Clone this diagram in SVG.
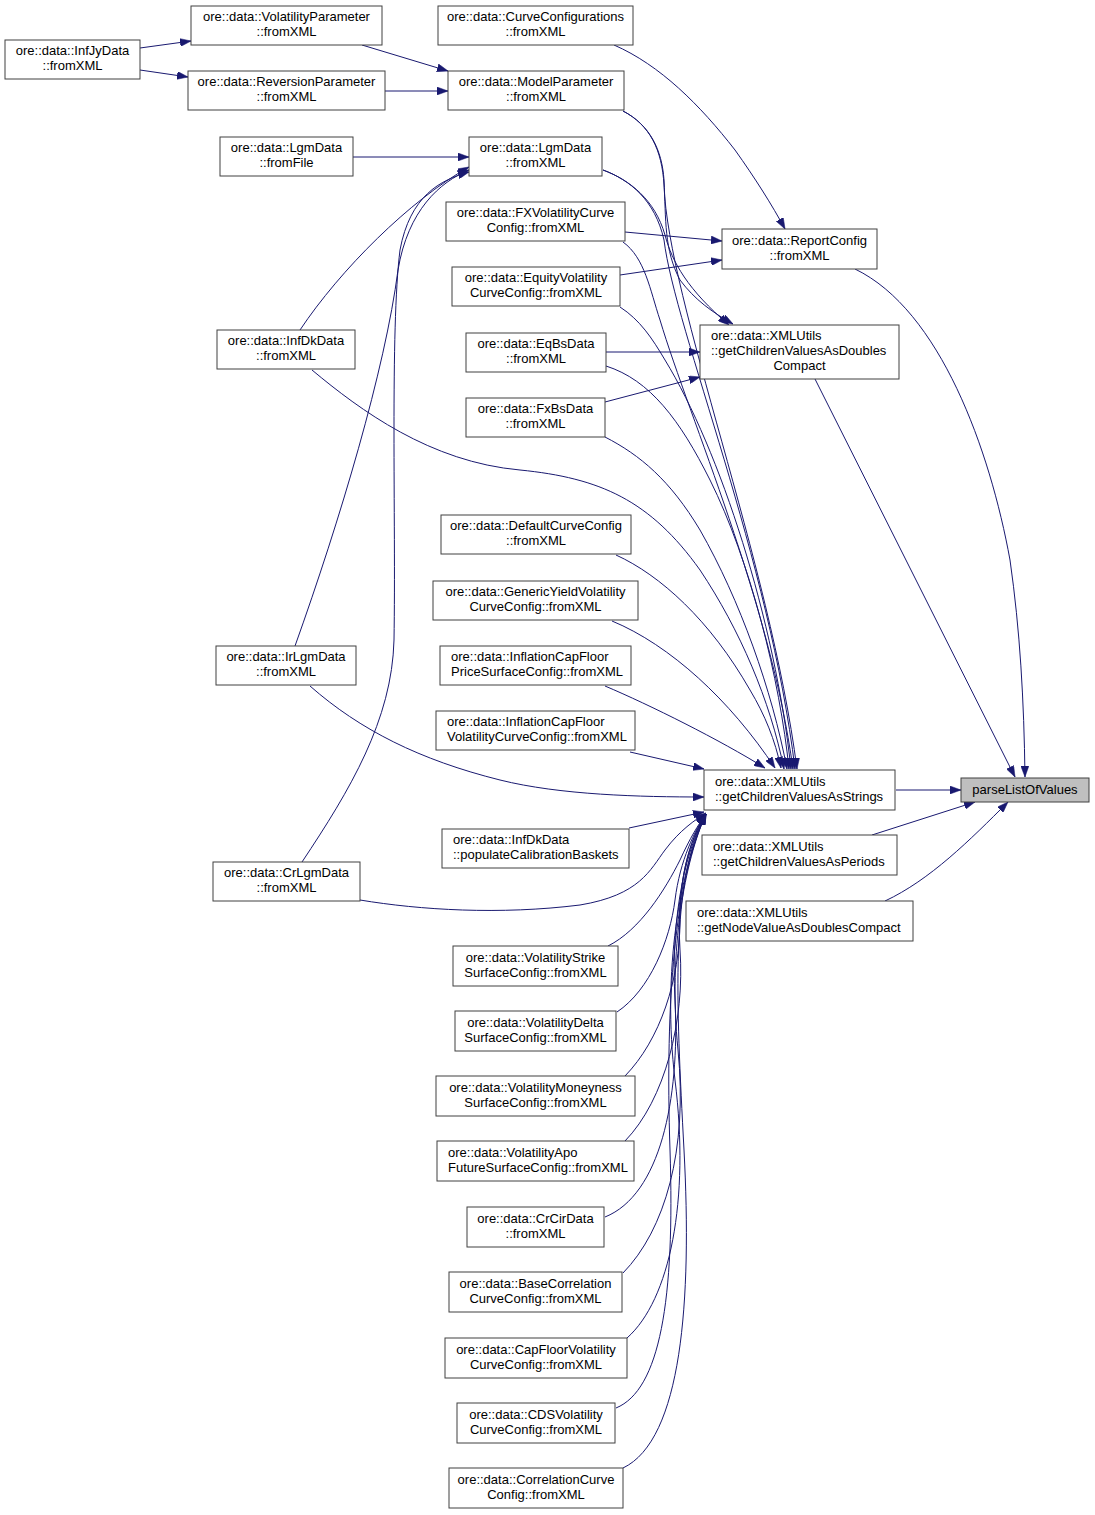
<svg xmlns="http://www.w3.org/2000/svg" width="1095" height="1515" viewBox="0 0 1095 1515">
<defs>
<style>
.node rect{fill:#ffffff;stroke:#404040;stroke-width:1}
.node text{font-family:"Liberation Sans",Arial,sans-serif;font-size:13px;fill:#000000}
.c{text-anchor:middle}
.l{text-anchor:start}
.edges path{fill:none;stroke:#191970;stroke-width:1;marker-end:url(#arr)}
</style>
<marker id="arr" viewBox="0 0 11 8" refX="11" refY="4" markerWidth="11" markerHeight="8" markerUnits="userSpaceOnUse" orient="auto">
<path d="M0,0 L11,4 L0,8 z" fill="#191970" stroke="#191970" stroke-width="0.5"/>
</marker>
</defs>
<rect x="0" y="0" width="1095" height="1515" fill="#ffffff"/>
<g class="edges">
<path d="M140,48 L191,41"/>
<path d="M140,70 L188,77"/>
<path d="M362,45 L448,71"/>
<path d="M385,91 L448,91"/>
<path d="M353,157 L469,157"/>
<path d="M300,330 C340,270 410,200 469,167"/>
<path d="M295,646 C340,520 385,370 398,270 C408,210 440,182 469,170"/>
<path d="M302,862 C350,790 392,720 394,640 C396,520 390,330 400,250 C410,196 440,180 469,172"/>
<path d="M614,45 C660,65 700,105 735,150 C755,178 772,205 785,229"/>
<path d="M623,111 C650,125 662,150 664,180 C666,220 664,250 680,280 C695,300 712,312 733,324"/>
<path d="M603,170 C630,180 655,200 665,235 C672,262 688,290 729,325"/>
<path d="M625,232 L722,241"/>
<path d="M620,275 L722,260"/>
<path d="M606,352 L700,352"/>
<path d="M605,402 L700,377"/>
<path d="M855,269 C940,310 990,450 1010,560 C1020,630 1024,700 1025,777"/>
<path d="M815,379 L1015,777"/>
<path d="M896,790 L961,790"/>
<path d="M872,835 L975,802"/>
<path d="M885,901 C930,880 970,840 1008,802"/>
<path d="M623,111 C650,125 662,150 664,185 C668,300 770,560 797,769"/>
<path d="M603,170 C630,180 655,200 664,240 C675,330 770,560 795,769"/>
<path d="M623,242 C645,258 650,290 660,320 C690,420 770,600 793,769"/>
<path d="M620,307 C640,320 652,338 665,360 C720,450 775,620 791,769"/>
<path d="M606,366 C650,380 680,420 710,480 C750,560 780,680 789,769"/>
<path d="M605,437 C640,455 670,480 700,530 C740,600 772,690 787,769"/>
<path d="M312,370 C360,410 430,462 520,470 C600,478 650,500 700,570 C740,630 770,700 784,769"/>
<path d="M616,555 C660,575 710,620 750,690 C765,715 775,740 781,768"/>
<path d="M612,621 C670,645 730,700 775,768"/>
<path d="M605,686 C650,705 720,740 765,768"/>
<path d="M630,752 L704,769"/>
<path d="M310,686 C360,730 420,760 500,780 C560,795 640,797 704,797"/>
<path d="M629,828 L704,812"/>
<path d="M360,900 C420,910 500,915 580,905 C640,895 650,870 665,850 C680,830 695,820 706,813"/>
<path d="M608,946 C640,930 665,890 680,860 C690,838 698,825 706,814"/>
<path d="M617,1012 C650,990 670,940 675,900 C680,860 695,830 706,814"/>
<path d="M625,1076 C660,1040 680,980 680,920 C680,870 692,835 706,814"/>
<path d="M625,1141 C665,1100 685,1020 680,950 C676,880 690,840 706,814"/>
<path d="M605,1217 C660,1195 680,1100 675,1000 C670,910 688,845 706,814"/>
<path d="M623,1273 C665,1230 688,1150 678,1050 C668,950 685,860 706,814"/>
<path d="M627,1338 C670,1300 690,1200 675,1080 C662,970 680,870 706,814"/>
<path d="M616,1408 C660,1390 675,1300 670,1150 C665,1000 675,880 706,814"/>
<path d="M623,1468 C682,1440 692,1300 684,1150 C676,1000 670,880 706,814"/>
</g>
<g id="n_infjy" class="node"><rect x="5" y="40" width="135" height="39"/><text class="c" x="72.5" y="55">ore::data::InfJyData</text><text class="c" x="72.5" y="70">::fromXML</text></g>
<g id="n_volparam" class="node"><rect x="191" y="6" width="191" height="39"/><text class="c" x="286.5" y="21">ore::data::VolatilityParameter</text><text class="c" x="286.5" y="36">::fromXML</text></g>
<g id="n_revparam" class="node"><rect x="188" y="71" width="197" height="39"/><text class="c" x="286.5" y="86">ore::data::ReversionParameter</text><text class="c" x="286.5" y="101">::fromXML</text></g>
<g id="n_lgmfile" class="node"><rect x="220" y="137" width="133" height="39"/><text class="c" x="286.5" y="152">ore::data::LgmData</text><text class="c" x="286.5" y="167">::fromFile</text></g>
<g id="n_curveconf" class="node"><rect x="438" y="6" width="195" height="39"/><text class="c" x="535.5" y="21">ore::data::CurveConfigurations</text><text class="c" x="535.5" y="36">::fromXML</text></g>
<g id="n_modelparam" class="node"><rect x="448" y="71" width="176" height="39"/><text class="c" x="536" y="86">ore::data::ModelParameter</text><text class="c" x="536" y="101">::fromXML</text></g>
<g id="n_lgmxml" class="node"><rect x="469" y="137" width="133" height="39"/><text class="c" x="535.5" y="152">ore::data::LgmData</text><text class="c" x="535.5" y="167">::fromXML</text></g>
<g id="n_fxvol" class="node"><rect x="446" y="202" width="179" height="39"/><text class="c" x="535.5" y="217">ore::data::FXVolatilityCurve</text><text class="c" x="535.5" y="232">Config::fromXML</text></g>
<g id="n_eqvol" class="node"><rect x="452" y="267" width="168" height="39"/><text class="c" x="536" y="282">ore::data::EquityVolatility</text><text class="c" x="536" y="297">CurveConfig::fromXML</text></g>
<g id="n_report" class="node"><rect x="722" y="229" width="155" height="40"/><text class="c" x="799.5" y="245">ore::data::ReportConfig</text><text class="c" x="799.5" y="260">::fromXML</text></g>
<g id="n_dblcompact" class="node"><rect x="700" y="325" width="199" height="54"/><text class="l" x="711" y="340">ore::data::XMLUtils</text><text class="l" x="711" y="355">::getChildrenValuesAsDoubles</text><text class="c" x="799.5" y="370">Compact</text></g>
<g id="n_infdk" class="node"><rect x="217" y="330" width="138" height="39"/><text class="c" x="286" y="345">ore::data::InfDkData</text><text class="c" x="286" y="360">::fromXML</text></g>
<g id="n_eqbs" class="node"><rect x="466" y="333" width="140" height="39"/><text class="c" x="536" y="348">ore::data::EqBsData</text><text class="c" x="536" y="363">::fromXML</text></g>
<g id="n_fxbs" class="node"><rect x="466" y="398" width="139" height="39"/><text class="c" x="535.5" y="413">ore::data::FxBsData</text><text class="c" x="535.5" y="428">::fromXML</text></g>
<g id="n_default" class="node"><rect x="441" y="515" width="190" height="39"/><text class="c" x="536" y="530">ore::data::DefaultCurveConfig</text><text class="c" x="536" y="545">::fromXML</text></g>
<g id="n_genyield" class="node"><rect x="433" y="581" width="205" height="39"/><text class="c" x="535.5" y="596">ore::data::GenericYieldVolatility</text><text class="c" x="535.5" y="611">CurveConfig::fromXML</text></g>
<g id="n_infprice" class="node"><rect x="440" y="646" width="191" height="39"/><text class="l" x="451" y="661">ore::data::InflationCapFloor</text><text class="l" x="451" y="676">PriceSurfaceConfig::fromXML</text></g>
<g id="n_infvol" class="node"><rect x="436" y="711" width="199" height="39"/><text class="l" x="447" y="726">ore::data::InflationCapFloor</text><text class="l" x="447" y="741">VolatilityCurveConfig::fromXML</text></g>
<g id="n_irlgm" class="node"><rect x="216" y="646" width="140" height="39"/><text class="c" x="286" y="661">ore::data::IrLgmData</text><text class="c" x="286" y="676">::fromXML</text></g>
<g id="n_strings" class="node"><rect x="704" y="770" width="191" height="40"/><text class="l" x="715" y="786">ore::data::XMLUtils</text><text class="l" x="715" y="801">::getChildrenValuesAsStrings</text></g>
<g id="n_parse" class="node"><rect x="961" y="778" width="128" height="24" style="fill:#bfbfbf"/><text class="c" x="1025" y="794">parseListOfValues</text></g>
<g id="n_populate" class="node"><rect x="442" y="829" width="187" height="39"/><text class="l" x="453" y="844">ore::data::InfDkData</text><text class="l" x="453" y="859">::populateCalibrationBaskets</text></g>
<g id="n_periods" class="node"><rect x="702" y="835" width="195" height="40"/><text class="l" x="713" y="851">ore::data::XMLUtils</text><text class="l" x="713" y="866">::getChildrenValuesAsPeriods</text></g>
<g id="n_crlgm" class="node"><rect x="213" y="862" width="147" height="39"/><text class="c" x="286.5" y="877">ore::data::CrLgmData</text><text class="c" x="286.5" y="892">::fromXML</text></g>
<g id="n_nodevalue" class="node"><rect x="686" y="901" width="227" height="40"/><text class="l" x="697" y="917">ore::data::XMLUtils</text><text class="l" x="697" y="932">::getNodeValueAsDoublesCompact</text></g>
<g id="n_volstrike" class="node"><rect x="453" y="946" width="165" height="40"/><text class="c" x="535.5" y="962">ore::data::VolatilityStrike</text><text class="c" x="535.5" y="977">SurfaceConfig::fromXML</text></g>
<g id="n_voldelta" class="node"><rect x="455" y="1011" width="161" height="40"/><text class="c" x="535.5" y="1027">ore::data::VolatilityDelta</text><text class="c" x="535.5" y="1042">SurfaceConfig::fromXML</text></g>
<g id="n_volmoney" class="node"><rect x="436" y="1076" width="199" height="40"/><text class="c" x="535.5" y="1092">ore::data::VolatilityMoneyness</text><text class="c" x="535.5" y="1107">SurfaceConfig::fromXML</text></g>
<g id="n_volapo" class="node"><rect x="437" y="1141" width="197" height="40"/><text class="l" x="448" y="1157">ore::data::VolatilityApo</text><text class="l" x="448" y="1172">FutureSurfaceConfig::fromXML</text></g>
<g id="n_crcir" class="node"><rect x="467" y="1207" width="137" height="40"/><text class="c" x="535.5" y="1223">ore::data::CrCirData</text><text class="c" x="535.5" y="1238">::fromXML</text></g>
<g id="n_basecorr" class="node"><rect x="449" y="1272" width="173" height="40"/><text class="c" x="535.5" y="1288">ore::data::BaseCorrelation</text><text class="c" x="535.5" y="1303">CurveConfig::fromXML</text></g>
<g id="n_capfloor" class="node"><rect x="445" y="1338" width="182" height="40"/><text class="c" x="536" y="1354">ore::data::CapFloorVolatility</text><text class="c" x="536" y="1369">CurveConfig::fromXML</text></g>
<g id="n_cds" class="node"><rect x="457" y="1403" width="158" height="40"/><text class="c" x="536" y="1419">ore::data::CDSVolatility</text><text class="c" x="536" y="1434">CurveConfig::fromXML</text></g>
<g id="n_corr" class="node"><rect x="449" y="1468" width="174" height="40"/><text class="c" x="536" y="1484">ore::data::CorrelationCurve</text><text class="c" x="536" y="1499">Config::fromXML</text></g>
</svg>
